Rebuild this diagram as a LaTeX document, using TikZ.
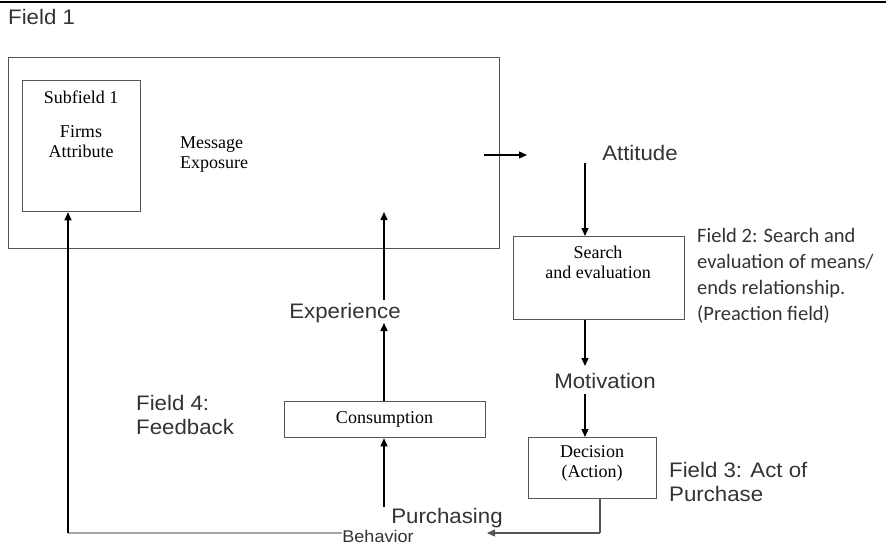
\documentclass[tikz,border=0pt]{standalone}
\usepackage{fontspec}
\usetikzlibrary{arrows.meta,calc}
\newfontfamily\arialf[FakeStretch=1.06]{Liberation Sans}
\newfontfamily\timesf{Liberation Serif}
\newfontfamily\calf{Carlito}
\definecolor{txt}{HTML}{333333}
\definecolor{boxc}{HTML}{555555}
\tikzset{
  sans/.style={font=\arialf\fontsize{21}{24}\selectfont, text=txt, inner sep=0pt},
  serif/.style={font=\timesf\fontsize{18}{20}\selectfont, text=black, inner sep=0pt, align=center},
  cal/.style={font=\calf\fontsize{20.5}{26}\selectfont, text=txt, inner sep=0pt, align=left},
  boxn/.style={draw=boxc, line width=1.3pt, inner sep=0pt, anchor=north west},
  arr/.style={draw=black, line width=1.3pt, -{Triangle[length=8pt,width=7pt]}},
  ln/.style={draw=black, line width=1.3pt},
}
\begin{document}
\begin{tikzpicture}[x=1pt,y=-1pt]
\useasboundingbox (0,0) rectangle (887,546);
\draw[line width=1.5pt] (0,2) -- (886,2);
\node[sans, anchor=west] (field1) at (8,17) {Field 1};
% field 1 boxes
\node[boxn, minimum width=491pt, minimum height=191pt] (outer) at (8,57) {};
\node[boxn, minimum width=118pt, minimum height=131pt] (sub) at (22,80) {};
\node[serif] (subt) at (81,97) {Subfield 1};
\node[serif, align=center] (firms) at (81,142) {Firms\\Attribute};
\node[serif, align=left, anchor=west] (msg) at (180,155) {Message\\Exposure};
% attitude
\coordinate (a1) at (484,155);
\coordinate (a2) at (527,155);
\draw[arr] (a1) -- (a2);
\node[sans] (attitude) at (640,153) {Attitude};
% search
\node[boxn, minimum width=171pt, minimum height=83pt] (search) at (513,236) {};
\node[serif] (searcht) at (598,262) {Search\\and evaluation};
\coordinate (c1) at (585,163);
\draw[arr] (c1) -- (c1 |- search.north);
\node[cal, anchor=west] (field2) at (697,276) {Field 2: Search and\\evaluation of means/\\ends relationship.\\(Preaction field)};
% motivation
\node[sans] (motivation) at (605,381) {Motivation};
\coordinate (c2) at (585,366);
\draw[arr] (c2 |- search.south) -- (c2);
% decision
\node[boxn, minimum width=128pt, minimum height=61pt] (decision) at (528,437) {};
\node[serif] (decisiont) at (592,463) {Decision\\(Action)};
\coordinate (c3) at (585,394);
\draw[arr] (c3) -- (c3 |- decision.north);
\node[sans, anchor=west, align=left] (field3) at (669,482) {Field 3: Act of\\Purchase};
% purchasing
\node[sans] (purch) at (447,518) {Purchasing};
\node[sans, font=\arialf\fontsize{17}{20}\selectfont] (behav) at (378,536.5) {Behavior};
\coordinate (c4) at (600,533);
\coordinate (c5) at (487,533);
\draw[draw=boxc, line width=1.3pt] (c4 |- decision.south) -- (c4);
\draw[arr, draw=boxc] (c4) -- (c5);
% consumption
\node[boxn, minimum width=201pt, minimum height=36pt] (cons) at (284,401) {};
\node[serif] (const) at (384.5,419) {Consumption};
\coordinate (c6) at (384,507);
\draw[arr] (c6) -- (c6 |- cons.south);
\node[sans] (exper) at (345,313) {Experience};
\coordinate (c7) at (384,323);
\draw[arr] (c7 |- cons.north) -- (c7);
\coordinate (c8) at (384,300);
\coordinate (c9) at (384,212);
\draw[arr] (c8) -- (c9);
% feedback
\coordinate (c10) at (68,533);
\draw[draw=gray!70, line width=1.3pt] (behav.west |- c10) -- (c10);
\draw[arr] (c10) -- (c10 |- sub.south);
\node[sans, anchor=west, align=left] (field4) at (136,415) {Field 4:\\Feedback};
\end{tikzpicture}
\end{document}
